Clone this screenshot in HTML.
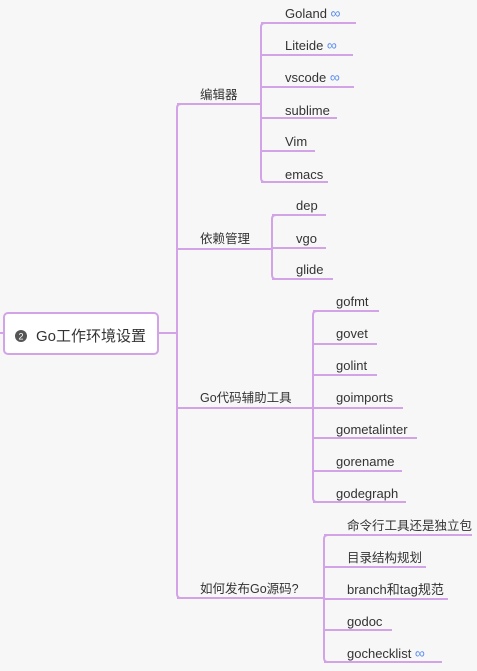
<!DOCTYPE html>
<html><head><meta charset="utf-8"><style>
body{margin:0;width:477px;height:671px;background:#f7f7f7;overflow:hidden;font-family:"Liberation Sans","Noto Sans CJK SC",sans-serif;}
svg{position:absolute;left:0;top:0}
text{font-family:"Liberation Sans","Noto Sans CJK SC",sans-serif;font-size:13px;fill:#333}
.c{font-size:12.5px}
.l{stroke:#d3a3e8;stroke-width:2;fill:none}
.k{fill:#5b8def;font-size:14px}
</style></head><body>
<svg width="477" height="671">
<g class="l">
<path d="M0 333H4M158 333H177"/>
<path d="M181 104Q177 104 177 108V594Q177 598 181 598"/>
<path d="M177 104H261M177 249H272M177 408H313M177 598H324"/>
<path d="M265 23Q261 23 261 27V178Q261 182 265 182"/>
<path d="M261 23H356M261 55H353M261 87H354M261 118H337M261 151H315M261 182H328"/>
<path d="M276 215Q272 215 272 219V275Q272 279 276 279"/>
<path d="M272 215H326M272 248H326M272 279H333"/>
<path d="M317 311Q313 311 313 315V498Q313 502 317 502"/>
<path d="M313 311H379M313 344H377M313 375H377M313 408H403M313 438H417M313 471H402M313 502H406"/>
<path d="M328 535Q324 535 324 539V658Q324 662 328 662"/>
<path d="M324 535H472M324 567H426M324 599H448M324 630H392M324 662H442"/>
</g>
<rect x="4" y="313" width="154" height="41" rx="4" fill="#fff" stroke="#d3a3e8" stroke-width="2"/>
<circle cx="21" cy="336" r="6" fill="#555"/>
<text x="21" y="339.5" text-anchor="middle" style="font-size:9px;fill:#fff">2</text>
<text x="36" y="341" style="font-size:15px">Go工作环境设置</text>
<text class="c" x="200" y="99">编辑器</text>
<text class="c" x="200" y="243">依赖管理</text>
<text class="c" x="200" y="402">Go代码辅助工具</text>
<text class="c" x="200" y="593">如何发布Go源码?</text>
<text x="285" y="18">Goland <tspan class="k">∞</tspan></text>
<text x="285" y="50">Liteide <tspan class="k">∞</tspan></text>
<text x="285" y="82">vscode <tspan class="k">∞</tspan></text>
<text x="285" y="115">sublime</text>
<text x="285" y="146">Vim</text>
<text x="285" y="179">emacs</text>
<text x="296" y="210">dep</text>
<text x="296" y="243">vgo</text>
<text x="296" y="274">glide</text>
<text x="336" y="306">gofmt</text>
<text x="336" y="338">govet</text>
<text x="336" y="370">golint</text>
<text x="336" y="402">goimports</text>
<text x="336" y="434">gometalinter</text>
<text x="336" y="466">gorename</text>
<text x="336" y="498">godegraph</text>
<text class="c" x="347" y="530">命令行工具还是独立包</text>
<text class="c" x="347" y="562">目录结构规划</text>
<text x="347" y="594">branch和tag规范</text>
<text x="347" y="626">godoc</text>
<text x="347" y="658">gochecklist <tspan class="k">∞</tspan></text>
</svg>
</body></html>
